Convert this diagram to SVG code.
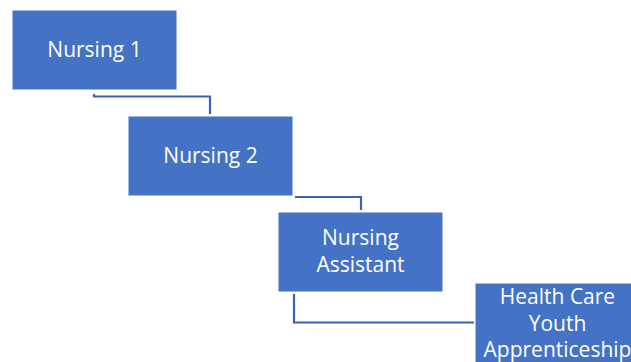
<svg xmlns="http://www.w3.org/2000/svg" width="631" height="362" viewBox="0 0 631 362">
<style>
.box{fill:#4472C4;stroke:#ffffff;stroke-width:1}
.t{font-family:"Open Sans","Noto Sans",sans-serif;font-size:21px;fill:#ffffff;text-anchor:middle}
.c{fill:none;stroke:#3C64AE;stroke-width:2.2}
</style>
<rect width="631" height="362" fill="#ffffff"/>
<g id="connectors">
<path class="c" d="M94,94 V96.5 H210 V114"/>
<path class="c" d="M295,197 H361 V210"/>
<path class="c" d="M294,294 V322.5 H474"/>
</g>
<g id="n1"><rect class="box" x="12" y="10" width="165" height="80"/><text class="t" x="94.5" y="57">Nursing 1</text></g>
<g id="n2"><rect class="box" x="128" y="116" width="165" height="80"/><text class="t" x="210.5" y="163">Nursing 2</text></g>
<g id="n3"><rect class="box" x="278" y="212" width="165" height="80"/><text class="t" x="360.5" y="245">Nursing</text><text class="t" x="360.5" y="272">Assistant</text></g>
<g id="n4"><rect class="box" x="475" y="283" width="165" height="80"/><text class="t" x="557.5" y="304">Health Care</text><text class="t" x="557.5" y="331">Youth</text><text class="t" x="557.5" y="357">Apprenticeship</text></g>
</svg>
